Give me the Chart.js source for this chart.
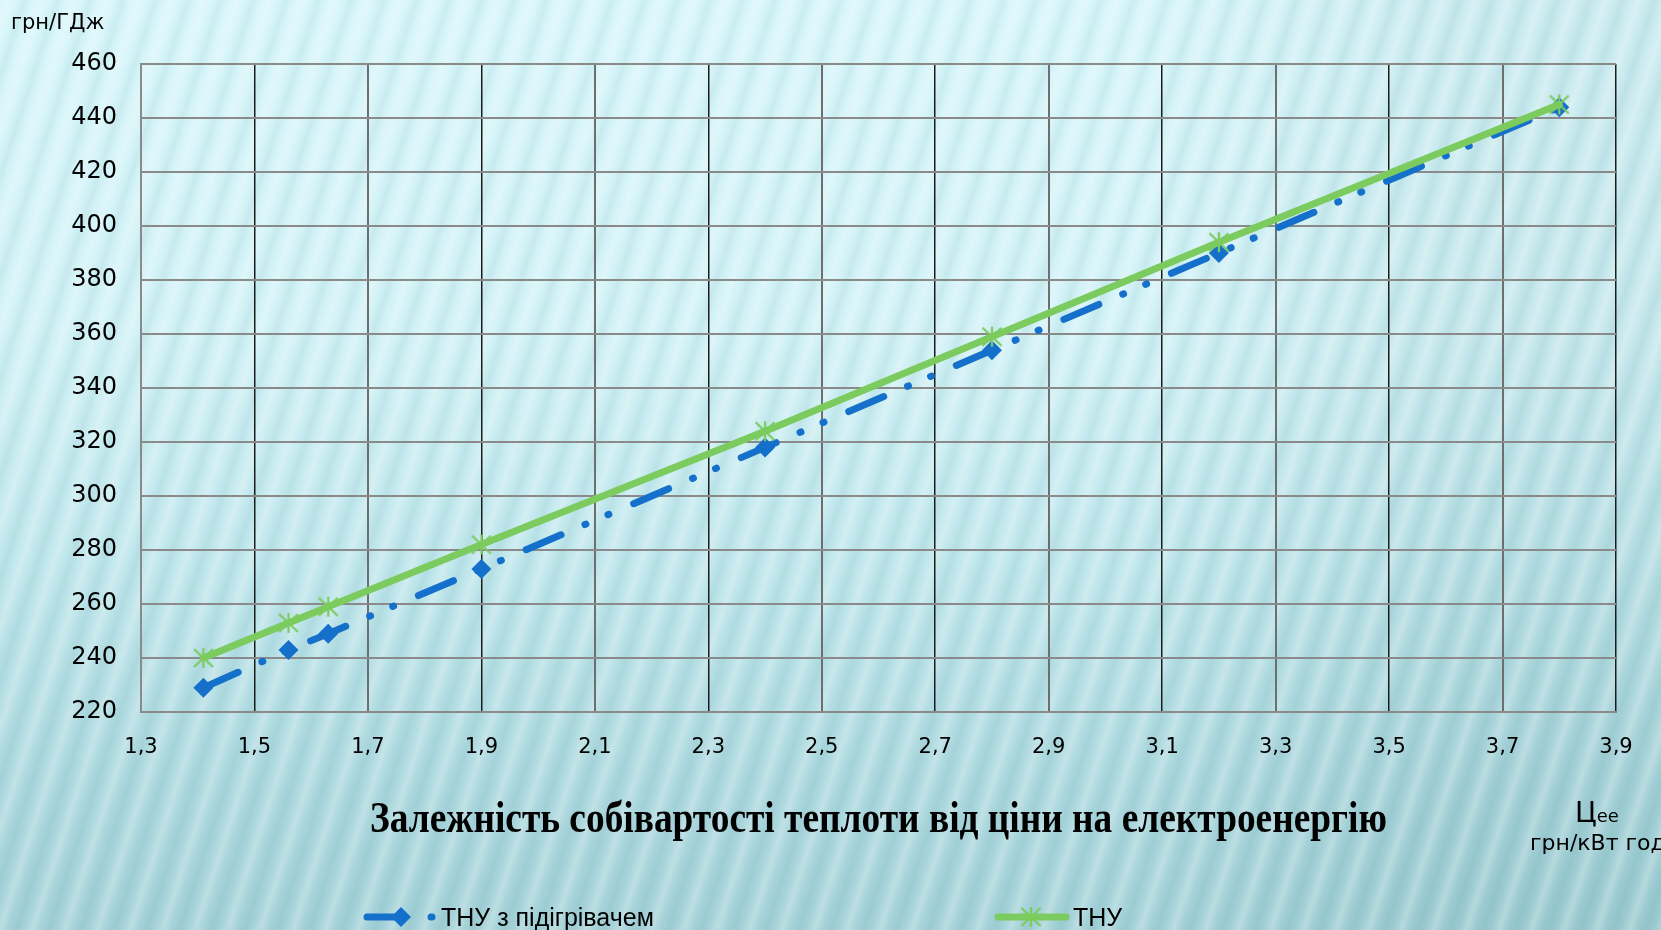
<!DOCTYPE html>
<html lang="uk">
<head>
<meta charset="utf-8">
<title>Залежність собівартості теплоти від ціни на електроенергію</title>
<script src="https://cdn.jsdelivr.net/npm/chart.js@4/dist/chart.umd.min.js"></script>
<style>
  html, body { margin: 0; padding: 0; width: 1661px; height: 930px; overflow: hidden; }
  body {
    background:
      repeating-linear-gradient(108deg,
        rgba(255,255,255,0) 0px, rgba(255,255,255,0.26) 8px, rgba(255,255,255,0) 16px,
        rgba(30,110,120,0.07) 24px, rgba(255,255,255,0) 31px),
      linear-gradient(90deg, rgba(0,70,80,0) 68%, rgba(0,70,80,0.06) 88%),
      linear-gradient(180deg, #d8f6fa 0%, #d2f2f6 35%, #c0e7ec 60%, #acd8de 85%, #a4d2d8 100%);
  }
  #wrap { position: relative; width: 1661px; height: 930px; }
  canvas { display: block; }
</style>
</head>
<body>
<div id="wrap"><canvas id="chart" width="1661" height="930"></canvas></div>
<script>
// Electricity price, грн/кВт·год
const electricityPrice = [1.41, 1.56, 1.63, 1.9, 2.4, 2.8, 3.2, 3.8];
// Heat cost, грн/ГДж
const costWithHeater = [229, 243, 249, 273, 318, 354, 390, 444];
const costHeatPump   = [240, 253, 259, 282, 324, 359, 394, 445];

const seriesNames = ['ТНУ з підігрівачем', 'ТНУ'];

const xTickValues = [1.3, 1.5, 1.7, 1.9, 2.1, 2.3, 2.5, 2.7, 2.9, 3.1, 3.3, 3.5, 3.7, 3.9];
const xTickLabels = ['1,3', '1,5', '1,7', '1,9', '2,1', '2,3', '2,5', '2,7', '2,9', '3,1', '3,3', '3,5', '3,7', '3,9'];
const yTickValues = [220, 240, 260, 280, 300, 320, 340, 360, 380, 400, 420, 440, 460];

const chartTitle = 'Залежність собівартості теплоти від ціни на електроенергію';
const yUnit = 'грн/ГДж';
const xSymbol = 'Ц';
const xSymbolIndex = 'ее';
const xUnit = 'грн/кВт год';

const BLUE = '#1570cc';
const GREEN = '#7ccb5e';

// Six-armed asterisk marker
function makeStar(color) {
  const c = document.createElement('canvas');
  c.width = 24; c.height = 24;
  const g = c.getContext('2d');
  g.strokeStyle = color;
  g.lineWidth = 2.2;
  g.lineCap = 'butt';
  g.beginPath();
  g.moveTo(12, 2); g.lineTo(12, 22);
  g.moveTo(2.5, 3); g.lineTo(21.5, 21);
  g.moveTo(21.5, 3); g.lineTo(2.5, 21);
  g.stroke();
  return c;
}
const starMarker = makeStar(GREEN);

const toPoints = (xs, ys) => xs.map((x, i) => ({ x: x, y: ys[i] }));

// Texts around the plot and the legend
const decorations = {
  id: 'decorations',
  afterDraw(chart) {
    const ctx = chart.ctx;
    const area = chart.chartArea;
    ctx.save();
    ctx.fillStyle = '#000';
    ctx.textBaseline = 'alphabetic';

    // value-axis unit
    ctx.textAlign = 'left';
    ctx.font = "21px 'DejaVu Sans'";
    ctx.fillText(yUnit, 11, 29);

    // condensed serif heading, centred on the plot
    ctx.font = "bold 44px 'Liberation Serif'";
    const tw = ctx.measureText(chartTitle).width;
    ctx.save();
    ctx.translate((area.left + area.right) / 2, 832);
    ctx.scale(1017 / tw, 1);
    ctx.textAlign = 'center';
    ctx.fillText(chartTitle, 0, 0);
    ctx.restore();

    // price-axis symbol and unit
    ctx.textAlign = 'left';
    ctx.font = "28px 'DejaVu Sans'";
    ctx.fillText(xSymbol, 1575, 822);
    const sw = ctx.measureText(xSymbol).width;
    ctx.font = "18px 'DejaVu Sans'";
    ctx.fillText(xSymbolIndex, 1575 + sw, 822);
    ctx.font = "22px 'DejaVu Sans'";
    ctx.fillText(xUnit, 1530, 850);

    // legend
    const legendY = 917;
    const items = [
      { x0: 367, x1: 436, xm: 401, xt: 441 },
      { x0: 998, x1: 1066, xm: 1031, xt: 1073 }
    ];
    chart.data.datasets.forEach((ds, i) => {
      const it = items[i];
      ctx.save();
      ctx.strokeStyle = ds.borderColor;
      ctx.lineWidth = ds.borderWidth;
      ctx.lineCap = 'round';
      ctx.setLineDash(ds.borderDash || []);
      ctx.beginPath();
      ctx.moveTo(it.x0, legendY);
      ctx.lineTo(it.x1, legendY);
      ctx.stroke();
      ctx.setLineDash([]);
      ctx.fillStyle = ds.pointBackgroundColor;
      ctx.strokeStyle = ds.pointBorderColor;
      ctx.lineWidth = ds.pointBorderWidth;
      Chart.helpers.drawPoint(ctx, {
        pointStyle: ds.pointStyle, radius: ds.pointRadius,
        borderWidth: ds.pointBorderWidth, rotation: 0
      }, it.xm, legendY);
      ctx.restore();
      ctx.fillStyle = '#000';
      ctx.font = "25px 'Liberation Sans'";
      ctx.textAlign = 'left';
      ctx.fillText(ds.label, it.xt, legendY + 9);
    });
    ctx.restore();
  }
};

new Chart(document.getElementById('chart'), {
  type: 'line',
  data: {
    datasets: [
      {
        label: seriesNames[0],
        data: toPoints(electricityPrice, costWithHeater),
        borderColor: BLUE,
        borderWidth: 7,
        borderDash: [38, 26, 1, 24, 1, 27],
        borderCapStyle: 'round',
        borderJoinStyle: 'round',
        pointStyle: 'rectRot',
        pointRadius: 10,
        pointBackgroundColor: BLUE,
        pointBorderColor: BLUE,
        pointBorderWidth: 0,
        order: 1
      },
      {
        label: seriesNames[1],
        data: toPoints(electricityPrice, costHeatPump),
        borderColor: GREEN,
        borderWidth: 7,
        borderCapStyle: 'round',
        borderJoinStyle: 'round',
        pointStyle: starMarker,
        pointRadius: 10,
        pointBackgroundColor: GREEN,
        pointBorderColor: GREEN,
        pointBorderWidth: 2,
        order: 0
      }
    ]
  },
  options: {
    responsive: false,
    animation: false,
    devicePixelRatio: 1,
    layout: { padding: { left: 0, top: 64, right: 45, bottom: 158 } },
    plugins: {
      legend: { display: false },
      title: { display: false },
      tooltip: { enabled: false }
    },
    scales: {
      x: {
        type: 'linear',
        min: 1.3,
        max: 3.9,
        afterBuildTicks: s => { s.ticks = xTickValues.map(v => ({ value: v })); },
        afterFit: s => { s.height = 60; },
        ticks: {
          callback: (v, i) => xTickLabels[i],
          font: { family: 'DejaVu Sans', size: 21 },
          color: '#000',
          padding: 23,
          maxRotation: 0,
          autoSkip: false
        },
        grid: {
          drawTicks: false,
          color: c => (c.index % 2 === 1 ? '#1c1c1c' : '#6e6e6e'),
          lineWidth: c => (c.index % 2 === 1 ? 1.5 : 2)
        },
        border: { display: true, color: '#8a8a8a', width: 2 }
      },
      y: {
        min: 220,
        max: 460,
        afterBuildTicks: s => { s.ticks = yTickValues.map(v => ({ value: v })); },
        afterFit: s => { s.width = 141; },
        ticks: {
          font: { family: 'DejaVu Sans', size: 24 },
          color: '#000',
          padding: 24
        },
        grid: { drawTicks: false, color: '#8a8a8a', lineWidth: 2 },
        border: { display: true, color: '#8a8a8a', width: 2 }
      }
    }
  },
  plugins: [decorations]
});
</script>
</body>
</html>
